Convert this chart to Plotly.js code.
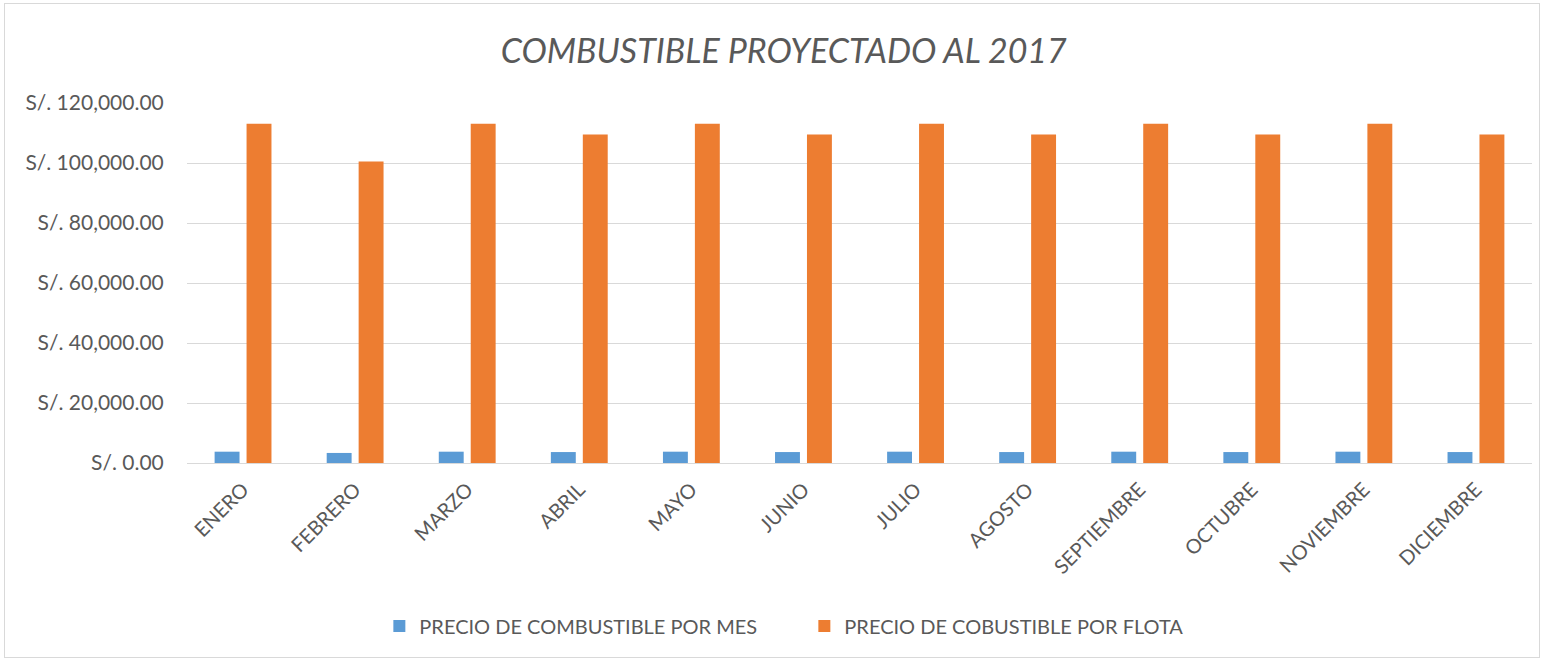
<!DOCTYPE html>
<html>
<head>
<meta charset="utf-8">
<script src="https://cdn.plot.ly/plotly-3.0.1.min.js"></script>
<style>
  html, body { margin: 0; padding: 0; background: #ffffff; }
  #wrap { position: absolute; left: 4px; top: 3px; width: 1536px; height: 655px; border: 1.5px solid #d9d9d9; box-sizing: border-box; }
  #chart { width: 100%; height: 100%; }
</style>
</head>
<body>
<div id="wrap"><div id="chart"></div></div>
<script>
const months = ["ENERO", "FEBRERO", "MARZO", "ABRIL", "MAYO", "JUNIO", "JULIO", "AGOSTO", "SEPTIEMBRE", "OCTUBRE", "NOVIEMBRE", "DICIEMBRE"];
const precioPorMes = [3770, 3350, 3770, 3650, 3770, 3650, 3770, 3650, 3770, 3650, 3770, 3650];
const precioPorFlota = [113100, 100500, 113100, 109500, 113100, 109500, 113100, 109500, 113100, 109500, 113100, 109500];
const seriesNames = ["PRECIO DE COMBUSTIBLE POR MES", "PRECIO DE COBUSTIBLE POR FLOTA"];
const chartTitle = "COMBUSTIBLE PROYECTADO AL 2017";

const font = "Lato, 'Open Sans', sans-serif";
const gray = "#595959";

const traces = [
  { type: "bar", name: seriesNames[0], x: months, y: precioPorMes, marker: { color: "#5b9bd5", line: { width: 0 } } },
  { type: "bar", name: seriesNames[1], x: months, y: precioPorFlota, marker: { color: "#ed7d31", line: { width: 0 } } }
];

const layout = {
  width: 1533, height: 652,
  margin: { l: 182, r: 6, t: 99, b: 193 },
  paper_bgcolor: "#ffffff", plot_bgcolor: "#ffffff",
  barmode: "group", bargap: 0.43, bargroupgap: 0.22,
  title: { text: chartTitle, font: { family: font, size: 34, color: gray, style: "italic" }, x: 0.508, xanchor: "center", y: 0.928, yanchor: "middle" },
  xaxis: {
    tickangle: -45, tickfont: { family: font, size: 20, color: gray }, ticklabelstandoff: 6,
    showline: true, linecolor: "#d9d9d9", linewidth: 1, showgrid: false, ticks: "", fixedrange: true
  },
  yaxis: {
    range: [0, 120000], dtick: 20000, tickprefix: "S/. ", tickformat: ",.2f",
    tickfont: { family: font, size: 21, color: gray },
    gridcolor: "#d9d9d9", gridwidth: 1, zeroline: false, ticks: "outside", ticklen: 18, tickcolor: "rgba(0,0,0,0)", fixedrange: true
  },
  legend: {
    orientation: "h", x: 0.459, xanchor: "center", y: -0.453, yanchor: "middle",
    font: { family: font, size: 20, color: gray }, entrywidth: 380, itemwidth: 30
  },
  showlegend: true
};

Plotly.newPlot("chart", traces, layout, { displayModeBar: false, responsive: false });
</script>
</body>
</html>
